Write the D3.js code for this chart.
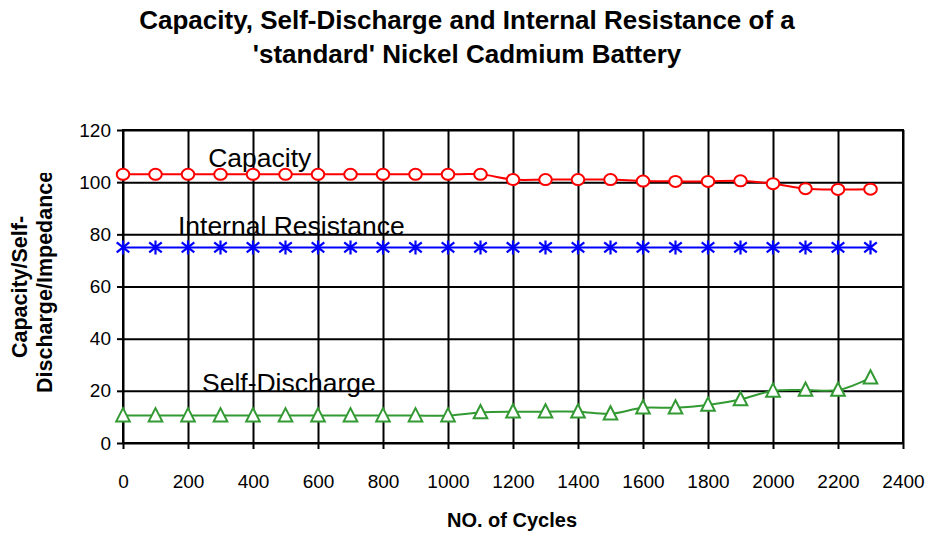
<!DOCTYPE html>
<html lang="en">

<head>
    <title>Nickel Cadmium battery</title>
    <meta charset="utf-8">
    <script src="https://d3js.org/d3.v7.min.js"></script>
    <style>
        body { margin: 0; background: #fff; }
        text { font-family: "Liberation Sans", Arial, sans-serif; fill: #000; }
        .tick text { font-size: 19px; }
        .tick line { stroke: #000; stroke-width: 2; }
        .title { font-size: 26px; font-weight: bold; }
        .axis-title { font-size: 20px; font-weight: bold; }
        .y-title { font-size: 21.5px; font-weight: bold; }
        .series-label { font-size: 26.5px; }
    </style>
</head>

<body>
    <div id="chart"></div>
    <script>
        // Data
        const cycles = [0, 100, 200, 300, 400, 500, 600, 700, 800, 900, 1000, 1100,
            1200, 1300, 1400, 1500, 1600, 1700, 1800, 1900, 2000, 2100, 2200, 2300];
        const capacity = [103, 103, 103, 103, 103, 103, 103, 103, 103, 103, 103, 103,
            101, 101, 101, 101, 100.4, 100.3, 100.3, 100.5, 99.4, 97.5, 97.2, 97.3];
        const internalResistance = [75, 75, 75, 75, 75, 75, 75, 75, 75, 75, 75, 75,
            75, 75, 75, 75, 75, 75, 75, 75, 75, 75, 75, 75];
        const selfDischarge = [10.5, 10.5, 10.5, 10.5, 10.5, 10.5, 10.5, 10.5, 10.5, 10.5, 10.5, 11.7,
            12, 12, 12, 11.2, 13.5, 13.5, 14.6, 16.7, 20, 20.3, 20.3, 25];
        const xTicks = [0, 200, 400, 600, 800, 1000, 1200, 1400, 1600, 1800, 2000, 2200, 2400];
        const yTicks = [0, 20, 40, 60, 80, 100, 120];

        // Dimensions
        const width = 925;
        const height = 534;
        const margin = { top: 130, right: 22, bottom: 91, left: 123 };
        const innerWidth = width - margin.left - margin.right;
        const innerHeight = height - margin.top - margin.bottom;

        const svg = d3.select("#chart")
            .append("svg")
            .attr("width", width)
            .attr("height", height);

        // the second line of the y title is cut off in the original
        const defs = svg.append("defs");
        defs.append("clipPath")
            .attr("id", "ylabel-clip")
            .append("rect")
            .attr("x", 0)
            .attr("y", 173)
            .attr("width", 80)
            .attr("height", 300);

        const bounds = svg.append("g")
            .attr("transform", `translate(${margin.left},${margin.top})`);

        // Scales
        const x = d3.scaleLinear().domain([0, 2400]).range([0, innerWidth]);
        const y = d3.scaleLinear().domain([0, 120]).range([innerHeight, 0]);

        // Grid + axes
        bounds.append("g")
            .attr("class", "x-axis")
            .attr("transform", `translate(0,${innerHeight + 6})`)
            .call(d3.axisBottom(x).tickValues(xTicks).tickFormat(d3.format("d"))
                .tickSize(-(innerHeight + 6)).tickPadding(26))
            .call(g => g.select(".domain").remove());

        bounds.append("g")
            .attr("class", "y-axis")
            .call(d3.axisLeft(y).tickValues(yTicks).tickSize(6).tickPadding(6))
            .call(g => g.select(".domain").remove());

        bounds.append("g")
            .attr("class", "y-grid")
            .call(d3.axisRight(y).tickValues(yTicks).tickSize(innerWidth).tickFormat(""))
            .call(g => g.select(".domain").remove());

        bounds.append("rect")
            .attr("width", innerWidth)
            .attr("height", innerHeight)
            .attr("fill", "none")
            .attr("stroke", "#000")
            .attr("stroke-width", 2);

        // Series
        const line = d3.line()
            .x(d => x(d[0]))
            .y(d => y(d[1]))
            .curve(d3.curveCatmullRom.alpha(0.5));

        const series = [
            { name: "capacity", values: capacity, color: "#ff0000", marker: "circle" },
            { name: "resistance", values: internalResistance, color: "#0000ff", marker: "star" },
            { name: "self", values: selfDischarge, color: "#339933", marker: "triangle" }
        ];

        series.forEach(s => {
            const pts = cycles.map((c, i) => [c, s.values[i]]);

            bounds.append("path")
                .datum(pts)
                .attr("d", line)
                .attr("fill", "none")
                .attr("stroke", s.color)
                .attr("stroke-width", 2);

            const m = bounds.append("g").selectAll("g")
                .data(pts)
                .join("g")
                .attr("transform", d => `translate(${x(d[0])},${y(d[1])})`);

            if (s.marker === "circle") {
                m.append("ellipse")
                    .attr("rx", 6.3)
                    .attr("ry", 5.5)
                    .attr("fill", "#fff")
                    .attr("stroke", s.color)
                    .attr("stroke-width", 2);
            } else if (s.marker === "star") {
                m.append("path")
                    .attr("d", "M0,-7 L0,7 M-6.3,-5 L6.3,5 M-6.3,5 L6.3,-5")
                    .attr("stroke", s.color)
                    .attr("stroke-width", 2.2);
            } else {
                m.append("path")
                    .attr("d", "M0,-7.5 L6.8,5.8 L-6.8,5.8 Z")
                    .attr("fill", "#fff")
                    .attr("stroke", s.color)
                    .attr("stroke-width", 2);
            }
        });

        // Series labels
        bounds.append("text").attr("class", "series-label")
            .attr("x", x(262)).attr("y", y(105.8)).text("Capacity");
        bounds.append("text").attr("class", "series-label")
            .attr("x", x(169)).attr("y", y(79.7)).text("Internal Resistance");
        bounds.append("text").attr("class", "series-label")
            .attr("x", x(243)).attr("y", y(19.6)).text("Self-Discharge");

        // Titles
        svg.append("text").attr("class", "title")
            .attr("x", 467).attr("y", 29)
            .attr("text-anchor", "middle")
            .text("Capacity, Self-Discharge and Internal Resistance of a");
        svg.append("text").attr("class", "title")
            .attr("x", 467).attr("y", 63)
            .attr("text-anchor", "middle")
            .text("'standard' Nickel Cadmium Battery");

        svg.append("text").attr("class", "axis-title")
            .attr("x", 512).attr("y", 527)
            .attr("text-anchor", "middle")
            .text("NO. of Cycles");

        svg.append("text").attr("class", "y-title")
            .attr("transform", "translate(27,287) rotate(-90)")
            .attr("text-anchor", "middle")
            .text("Capacity/Self-");

        svg.append("g").attr("clip-path", "url(#ylabel-clip)")
            .append("text").attr("class", "y-title")
            .attr("transform", "translate(52,393) rotate(-90)")
            .attr("text-anchor", "start")
            .text("Discharge/Impedance");
    </script>
</body>

</html>
